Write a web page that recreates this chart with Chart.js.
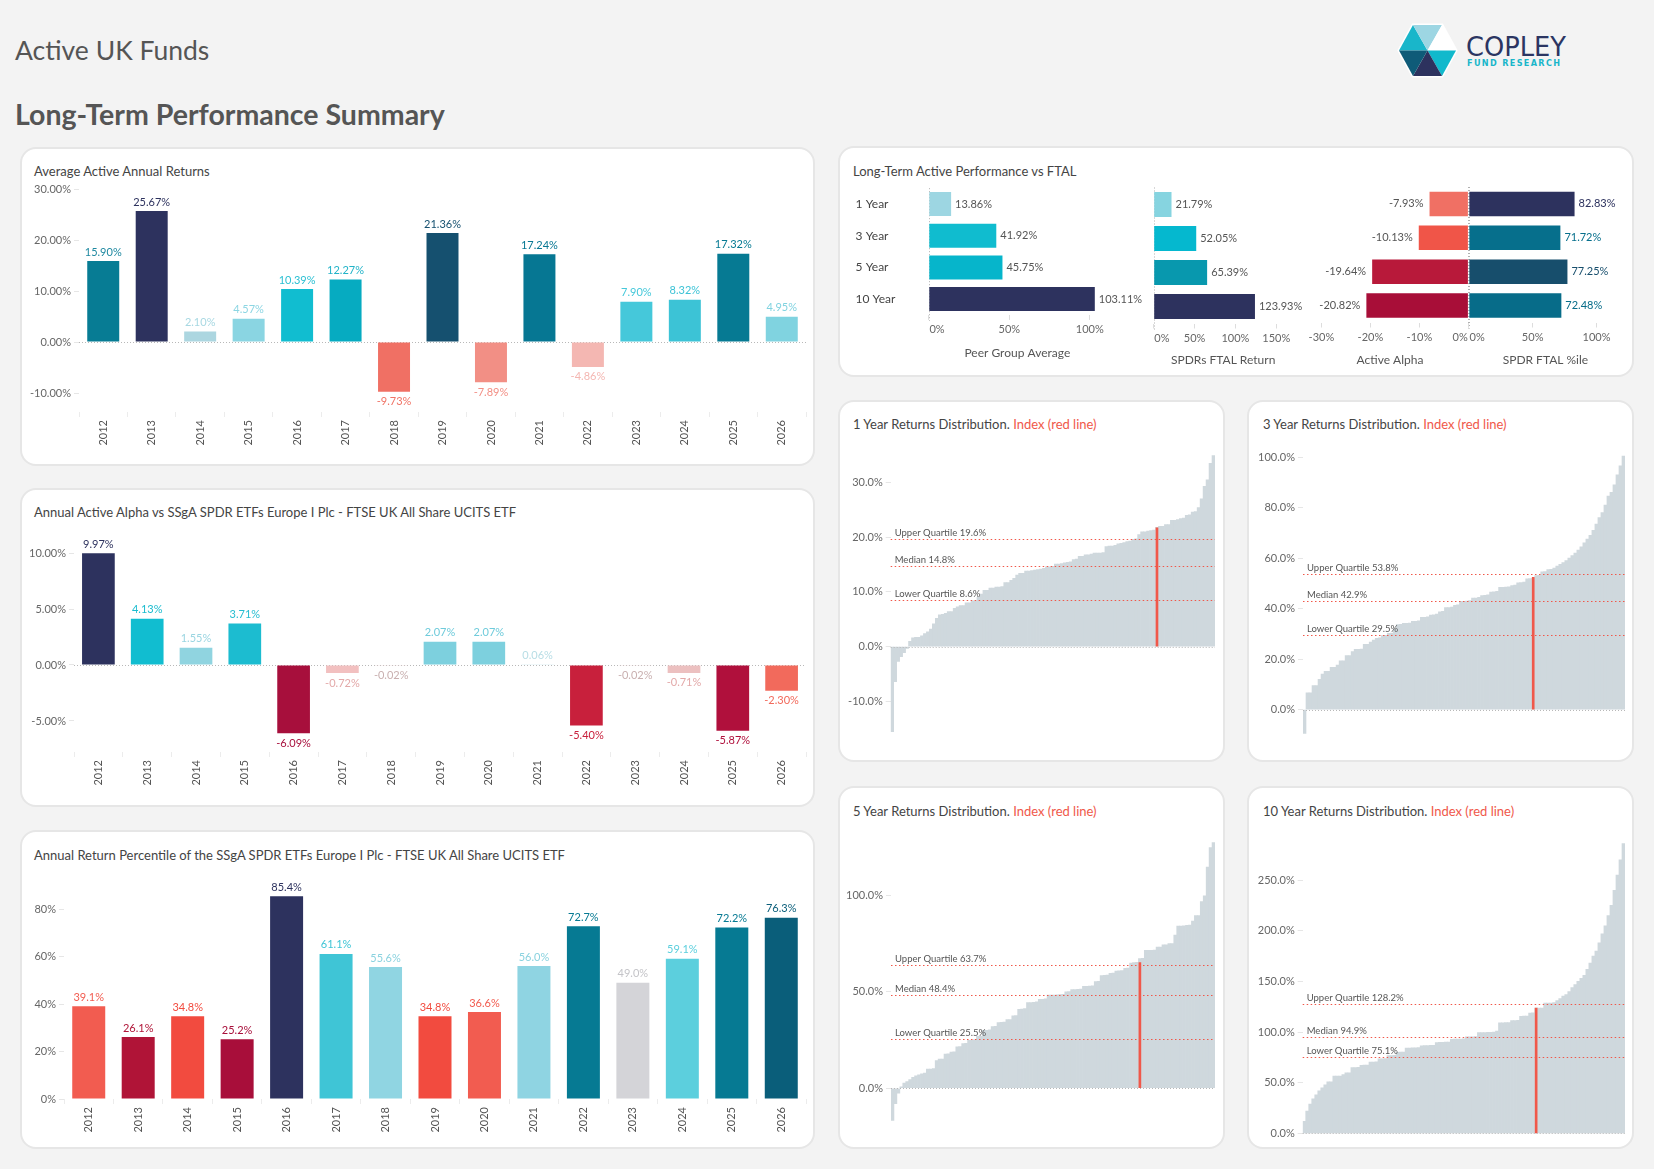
<!DOCTYPE html>
<html><head><meta charset="utf-8">
<script src="https://cdn.jsdelivr.net/npm/chart.js@4.4.1/dist/chart.umd.min.js"></script>
<style>
html,body{margin:0;padding:0;}
body{width:1654px;height:1169px;background:#f3f3f3;position:relative;overflow:hidden;font-family:Lato,'Noto Sans',sans-serif;}
.panel{position:absolute;background:#fff;border:2px solid #e6e6e6;border-radius:16px;box-sizing:border-box;}
.ttl{position:absolute;font-size:13px;color:#444;white-space:nowrap;line-height:16px;}
.ttl span{color:#f0584a;}
.h1{position:absolute;left:15px;top:34px;font-size:26.5px;line-height:32px;color:#555;}
.h2{position:absolute;left:15px;top:97px;font-size:28.5px;line-height:34px;color:#555;font-weight:700;}
canvas{position:absolute;}
svg{position:absolute;}
</style></head><body>
<div class="h1">Active UK Funds</div>
<div class="h2">Long-Term Performance Summary</div>
<svg style="left:1390px;top:15px" width="200" height="70" viewBox="0 0 200 70">
  <polygon points="9,35.5 23,10 52,10 66,35.5 52,61 23,61" fill="#fff" stroke="#fff" stroke-width="3"/>
  <polygon points="9,35.5 23,10 37.5,35.5" fill="#19b6ca"/>
  <polygon points="23,10 52,10 37.5,35.5" fill="#9dd6e3"/>
  <polygon points="52,10 66,35.5 37.5,35.5" fill="#ffffff"/>
  <polygon points="66,35.5 52,61 37.5,35.5" fill="#11b9cc"/>
  <polygon points="52,61 23,61 37.5,35.5" fill="#2d325e"/>
  <polygon points="23,61 9,35.5 37.5,35.5" fill="#0f5b78"/>
  <text x="76" y="41" font-family="'Liberation Sans Narrow','DejaVu Sans Condensed',sans-serif" font-size="27" fill="#2b3562" textLength="100" lengthAdjust="spacingAndGlyphs">COPLEY</text>
  <text x="77" y="50.5" font-family="'DejaVu Sans Condensed','DejaVu Sans',sans-serif" font-weight="700" font-size="9" fill="#19b6ca" textLength="93" lengthAdjust="spacing">FUND RESEARCH</text>
</svg>

<div class="panel" style="left:20px;top:147px;width:795px;height:319px"></div>
<div class="panel" style="left:20px;top:488px;width:795px;height:319px"></div>
<div class="panel" style="left:20px;top:830px;width:795px;height:319px"></div>
<div class="panel" style="left:838px;top:146px;width:796px;height:231px"></div>
<div class="panel" style="left:838px;top:400px;width:387px;height:362px"></div>
<div class="panel" style="left:1247px;top:400px;width:387px;height:362px"></div>
<div class="panel" style="left:838px;top:786px;width:387px;height:363px"></div>
<div class="panel" style="left:1247px;top:786px;width:387px;height:363px"></div>

<div class="ttl" style="left:34px;top:163px">Average Active Annual Returns</div>
<div class="ttl" style="left:34px;top:504px">Annual Active Alpha vs SSgA SPDR ETFs Europe I Plc - FTSE UK All Share UCITS ETF</div>
<div class="ttl" style="left:34px;top:847px">Annual Return Percentile of the SSgA SPDR ETFs Europe I Plc - FTSE UK All Share UCITS ETF</div>
<div class="ttl" style="left:853px;top:163px">Long-Term Active Performance vs FTAL</div>
<div class="ttl" style="left:853px;top:416px">1 Year Returns Distribution. <span>Index (red line)</span></div>
<div class="ttl" style="left:1263px;top:416px">3 Year Returns Distribution. <span>Index (red line)</span></div>
<div class="ttl" style="left:853px;top:803px">5 Year Returns Distribution. <span>Index (red line)</span></div>
<div class="ttl" style="left:1263px;top:803px">10 Year Returns Distribution. <span>Index (red line)</span></div>

<script>
// ---------- DATA ----------
const years = ['2012','2013','2014','2015','2016','2017','2018','2019','2020','2021','2022','2023','2024','2025','2026'];
const avgReturns = [15.90, 25.67, 2.10, 4.57, 10.39, 12.27, -9.73, 21.36, -7.89, 17.24, -4.86, 7.90, 8.32, 17.32, 4.95];
const avgTicks = [-10, 0, 10, 20, 30];
const alphaValues = [9.97, 4.13, 1.55, 3.71, -6.09, -0.72, -0.02, 2.07, 2.07, 0.06, -5.40, -0.02, -0.71, -5.87, -2.30];
const alphaTicks = [-5, 0, 5, 10];
const pctValues = [39.1, 26.1, 34.8, 25.2, 85.4, 61.1, 55.6, 34.8, 36.6, 56.0, 72.7, 49.0, 59.1, 72.2, 76.3];
const pctTicks = [0, 20, 40, 60, 80];

const periods = ['1 Year', '3 Year', '5 Year', '10 Year'];
const peerAvg = [13.86, 41.92, 45.75, 103.11];
const spdrReturn = [21.79, 52.05, 65.39, 123.93];
const activeAlpha = [-7.93, -10.13, -19.64, -20.82];
const spdrPctile = [82.83, 71.72, 77.25, 72.48];
const peerTicks = [0, 50, 100];
const spdrTicks = [0, 50, 100, 150];
const alphaLtTicks = [-30, -20, -10, 0];
const pctileTicks = [0, 50, 100];

const quartileNames = ['Upper Quartile', 'Median', 'Lower Quartile'];
const dist1y = [-15.5, -6.4, -2.7, -1.8, -1.1, -0.3, 1.0, 1.6, 1.7, 1.7,
  2.0, 2.4, 2.7, 3.2, 4.2, 5.2, 5.8, 5.9, 6.1, 6.4,
  6.4, 7.0, 7.3, 7.5, 7.5, 8.0, 8.0, 8.4, 8.4, 9.0,
  9.6, 10.3, 10.3, 10.7, 10.7, 10.9, 10.9, 11.0, 11.7, 11.7,
  12.1, 12.5, 13.1, 13.4, 13.4, 13.8, 13.8, 13.9, 14.0, 14.1,
  14.2, 14.3, 14.6, 14.6, 14.7, 15.1, 15.1, 15.2, 15.3, 15.4,
  15.5, 15.9, 16.0, 16.5, 16.5, 16.8, 16.8, 16.9, 17.1, 17.1,
  17.1, 17.2, 18.3, 18.4, 18.4, 18.5, 18.8, 18.9, 19.0, 19.2,
  19.3, 19.6, 19.7, 20.5, 21.0, 21.0, 21.1, 21.2, 21.3, 21.8,
  22.0, 22.0, 22.3, 22.3, 23.1, 23.1, 23.2, 23.4, 23.5, 24.0,
  24.1, 24.6, 24.7, 25.4, 27.0, 29.3, 30.5, 33.5, 34.9];
const quart1y = [19.6, 14.8, 8.6];
const index1yPos = 89, index1yVal = 21.7;
const dist1yTicks = [-10, 0, 10, 20, 30];

const dist3y = [-9.4,
  6.7, 6.7, 9.5, 9.5, 12.0, 14.1, 15.2, 15.2, 16.7, 16.7,
  17.6, 19.3, 19.3, 21.4, 21.4, 23.0, 23.9, 23.9, 24.0, 25.9,
  25.9, 26.7, 27.5, 28.2, 28.4, 29.3, 29.4, 30.2, 30.3, 31.9,
  33.7, 33.8, 34.2, 34.2, 34.3, 35.0, 35.0, 35.2, 36.5, 36.5,
  36.7, 37.4, 37.5, 37.8, 38.7, 38.9, 40.4, 40.4, 40.6, 41.3,
  41.5, 42.9, 42.9, 43.0, 43.2, 44.2, 44.2, 44.5, 45.2, 45.3,
  45.5, 46.5, 46.6, 46.8, 48.4, 48.4, 48.5, 48.6, 49.1, 49.3,
  50.2, 50.3, 50.5, 51.8, 51.9, 52.0, 53.1, 53.2, 54.6, 54.7,
  55.4,
  55.5, 56.0, 56.8, 57.5, 58.2, 59.0, 60.0, 61.0, 62.0, 63.2,
  64.5, 66.0, 67.5, 69.0, 71.0, 73.5, 76.0, 78.0, 81.0, 84.5,
  86.0, 89.0, 93.0, 96.5, 100.4];
const quart3y = [53.8, 42.9, 29.5];
const index3yPos = 76, index3yVal = 52.4;
const dist3yTicks = [0, 20, 40, 60, 80, 100];

const dist5y = [-16.7, -8.0, -2.5, 0.8, 2.7, 3.5, 4.5, 5.7, 6.5, 7.0,
  7.5, 7.9, 10.0, 10.0, 10.2, 14.4, 15.1, 15.1, 17.8, 17.9,
  18.8, 18.9, 21.5, 21.6, 23.2, 23.3, 24.9, 25.0, 25.2, 26.9,
  27.0, 30.0, 30.1, 30.3, 32.0, 32.1, 34.1, 34.2, 34.4, 35.6,
  35.7, 37.6, 37.7, 41.0, 41.1, 41.3, 44.4, 44.5, 44.6, 44.8,
  46.1, 46.2, 46.4, 48.3, 48.4, 48.4, 48.5, 48.6, 48.8, 50.0,
  50.1, 51.2, 51.2, 51.3, 51.4, 52.9, 52.9, 53.0, 53.1, 55.4,
  55.5, 58.5, 58.6, 58.7, 59.6, 59.7, 60.8, 60.9, 61.0, 62.2,
  62.3, 65.0, 65.2, 65.3, 67.3, 67.4, 71.5, 71.5, 71.6, 71.7,
  73.2, 73.2, 74.4, 74.4, 75.0, 75.0, 79.5, 84.2, 84.2, 84.3,
  84.5, 84.6, 86.7, 89.6, 89.6, 96.9, 99.8, 114.7, 124.9, 127.4];
const quart5y = [63.7, 48.4, 25.5];
const index5yPos = 84, index5yVal = 65.2;
const dist5yTicks = [0, 50, 100];

const dist10y = [12, 22, 29, 34, 38, 42, 45, 48, 51.0, 51.0,
  56.5, 56.5, 56.6, 58.0, 59.7, 59.8, 64.9, 65.0, 65.1, 67.2,
  67.3, 67.5, 70.4, 70.5, 70.6, 73.6, 73.7, 73.8, 76.8, 76.9,
  77.0, 80.1, 80.2, 80.3, 84.2, 84.3, 84.4, 84.5, 84.6, 86.5,
  86.6, 86.7, 86.8, 86.9, 89.7, 89.8, 89.9, 90.0, 90.1, 92.9,
  93.0, 93.1, 93.2, 93.3, 95.2, 95.3, 95.4, 95.5, 99.4, 99.5,
  99.6, 99.7, 99.8, 99.9, 101.0, 109.1, 109.2, 109.3, 109.4, 111.3,
  111.4, 111.5, 115.6, 115.7, 115.8, 118.8, 118.9, 123.6, 123.7, 123.8,
  128.5, 128.6, 128.7, 129.0, 131.0, 133.0, 135.5, 137.0, 140.0, 144.0,
  147.0, 150.0, 153.0, 156.0, 162.0, 168.0, 175.0, 180.0, 188.0, 197.0,
  205.0, 215.0, 225.0, 240.0, 255.0, 270.0, 286.0];
const quart10y = [128.2, 94.9, 75.1];
const index10yPos = 77, index10yVal = 123.6;
const dist10yTicks = [0, 50, 100, 150, 200, 250];

// ---------- STYLES ----------
const avgColors = ['#077c94','#2d325e','#acd6e0','#8ad5e2','#11bdd0','#06abc1','#f07064','#15506f','#f28f85','#067793','#f4b7b2','#45c8da','#3cc3d6','#067a93','#80d3e0'];
const avgLabelColors = ['#1e88a0','#2d325e','#a8d8e2','#8dd6e3','#2cc0d3','#22b3c8','#f07466','#15506f','#f28f85','#067793','#f4b7b2','#45c8da','#3cc3d6','#067a93','#80d3e0'];
const alphaColors = ['#2d325e','#11bdd0','#90d4e0','#1cbcd0','#a70f3c','#f2c0c0','#eed8d8','#7dd0de','#7dd0de','#c8e8ee','#c8203c','#eed8d8','#ecc0c0','#b0103c','#f26a5c'];
const alphaLabelColors = ['#2d325e','#1bbccf','#9ad5e1','#26bdd0','#a70f3c','#e3a9a9','#c9b0b0','#6fcbdb','#6fcbdb','#b7dde5','#c8203c','#c9b0b0','#e3a9a9','#b0103c','#f26a5c'];
const pctColors = ['#f25c50','#b01437','#f24b3f','#a80e3a','#2d325e','#3fc5d6','#90d5e2','#f24b3f','#f25c50','#8fd4e2','#067a93','#d4d4d8','#5ccfdd','#067a93','#0a5e7a'];
const pctLabelColors = ['#f25c50','#b01437','#f24b3f','#a80e3a','#2d325e','#3fc5d6','#8ad2df','#f24b3f','#f25c50','#8ad2df','#067a93','#c4c4c8','#5ccfdd','#067a93','#0a5e7a'];
const peerColors = ['#9dd6e2','#10bccf','#06b5cb','#2d325e'];
const spdrColors = ['#86d4e0','#05b8cf','#0898ae','#2d325e'];
const alphaLtColors = ['#f07064','#f05548','#b8193a','#a80e38'];
const pctileColors = ['#2d325e','#066f8c','#174e6c','#076c89'];

const FONT = "Lato, 'Noto Sans', sans-serif";
Chart.defaults.font.family = FONT;

// ---------- PLUGINS ----------
const valueLabels = {
  id: 'valueLabels',
  afterDatasetsDraw(chart, args, opts) {
    if (!opts || !opts.show) return;
    const ctx = chart.ctx;
    const meta = chart.getDatasetMeta(0);
    const data = chart.data.datasets[0].data;
    ctx.save();
    ctx.font = (opts.size || 11) + 'px ' + FONT;
    ctx.textBaseline = 'middle';
    meta.data.forEach((el, i) => {
      const v = data[i];
      const txt = opts.fmt(v);
      ctx.fillStyle = opts.colors ? opts.colors[i] : (opts.color || '#555');
      if (opts.horizontal) {
        if (v >= 0) { ctx.textAlign = 'left'; ctx.fillText(txt, el.x + 4, el.y); }
        else { ctx.textAlign = 'right'; ctx.fillText(txt, el.x - 6, el.y); }
      } else {
        ctx.textAlign = 'center';
        if (v >= 0) ctx.fillText(txt, el.x, el.y - 9);
        else ctx.fillText(txt, el.x, el.y + 10);
      }
    });
    ctx.restore();
  }
};
function drawZero(chart, opts) {
  const {ctx, chartArea: a} = chart;
  const horiz = chart.options.indexAxis === 'y';
  const sc = horiz ? chart.scales.x : chart.scales.y;
  const p = Math.round(sc.getPixelForValue(0)) + 0.5;
  ctx.save();
  ctx.strokeStyle = opts.color || '#b8b8b8';
  ctx.lineWidth = 1;
  ctx.setLineDash([1, 2]);
  ctx.beginPath();
  if (horiz) { ctx.moveTo(p, a.top); ctx.lineTo(p, a.bottom + (opts.extend || 0)); }
  else { ctx.moveTo(a.left, p); ctx.lineTo(a.right, p); }
  ctx.stroke();
  ctx.restore();
}
const zeroLine = {
  id: 'zeroLine',
  beforeDatasetsDraw(chart, args, opts) { if (opts && opts.show && !opts.front) drawZero(chart, opts); },
  afterDatasetsDraw(chart, args, opts) { if (opts && opts.show && opts.front) drawZero(chart, opts); }
};
const quartiles = {
  id: 'quartiles',
  afterDatasetsDraw(chart, args, opts) {
    if (!opts || !opts.values) return;
    const {ctx, chartArea: a, scales: {y}} = chart;
    ctx.save();
    opts.values.forEach((v, i) => {
      const py = Math.round(y.getPixelForValue(v)) + 0.5;
      ctx.strokeStyle = '#f0584a'; ctx.lineWidth = 1; ctx.setLineDash([1.5, 2.5]);
      ctx.beginPath(); ctx.moveTo(a.left, py); ctx.lineTo(a.right, py); ctx.stroke();
      ctx.setLineDash([]);
      ctx.fillStyle = '#555'; ctx.font = '9.5px ' + FONT; ctx.textAlign = 'left'; ctx.textBaseline = 'middle';
      ctx.fillText(opts.names[i] + ' ' + v.toFixed(1) + '%', a.left + 4, py - 7);
    });
    ctx.restore();
  }
};
Chart.register(valueLabels, zeroLine, quartiles);

function canvasAt(left, top, w, h) {
  const c = document.createElement('canvas');
  c.width = w; c.height = h;
  c.style.left = left + 'px'; c.style.top = top + 'px';
  c.style.width = w + 'px'; c.style.height = h + 'px';
  document.body.appendChild(c);
  return c;
}

// ---------- COLUMN CHARTS ----------
function colChart(c, cfg) {
  return new Chart(c, {
    type: 'bar',
    data: {labels: years, datasets: [{data: cfg.values, backgroundColor: cfg.colors, barPercentage: cfg.bp, categoryPercentage: 1}]},
    options: {
      responsive: false, animation: false, events: [],
      layout: {padding: {left: 0, right: 4, top: 10, bottom: 0}},
      plugins: {legend: {display: false}, tooltip: {enabled: false},
        valueLabels: {show: true, colors: cfg.labelColors, fmt: cfg.fmt},
        zeroLine: {show: cfg.zero}},
      scales: {
        x: {offset: true, grid: {offset: true, drawOnChartArea: false, tickLength: 5, color: '#ececec'}, border: {display: false},
            ticks: {minRotation: 90, maxRotation: 90, autoSkip: false, padding: 3, color: '#555', font: {size: 11}},
            afterFit: s => { s.height = 36; }},
        y: {min: cfg.min, max: cfg.max,
            afterBuildTicks: s => { s.ticks = cfg.ticks.map(v => ({value: v})); },
            afterFit: s => { s.width = cfg.yw; },
            grid: {drawOnChartArea: false, tickLength: 5, color: '#e6e6e6'}, border: {display: false},
            ticks: {padding: 3, color: '#666', font: {size: 11}, callback: cfg.tickFmt}}
      }
    }
  });
}
colChart(canvasAt(25, 178, 785, 270), {values: avgReturns, colors: avgColors, labelColors: avgLabelColors, bp: 0.66,
  fmt: v => v.toFixed(2) + '%', tickFmt: v => v.toFixed(2) + '%', min: -13.7, max: 30.2, ticks: avgTicks, yw: 54, zero: true});
colChart(canvasAt(25, 525, 785, 263), {values: alphaValues, colors: alphaColors, labelColors: alphaLabelColors, bp: 0.67,
  fmt: v => v.toFixed(2) + '%', tickFmt: v => v.toFixed(2) + '%', min: -7.77, max: 11.61, ticks: alphaTicks, yw: 49, zero: true});
colChart(canvasAt(25, 866, 785, 269), {values: pctValues, colors: pctColors, labelColors: pctLabelColors, bp: 0.667,
  fmt: v => v.toFixed(1) + '%', tickFmt: v => v + '%', min: 0, max: 93.9, ticks: pctTicks, yw: 39, zero: false});

// ---------- HORIZONTAL BARS (Long-Term) ----------
function hbar(c, cfg) {
  return new Chart(c, {
    type: 'bar',
    data: {labels: periods, datasets: [{data: cfg.values, backgroundColor: cfg.colors, barPercentage: cfg.bp, categoryPercentage: 1}]},
    options: {
      indexAxis: 'y', responsive: false, animation: false, events: [],
      layout: {padding: cfg.pad},
      plugins: {legend: {display: false}, tooltip: {enabled: false},
        valueLabels: {show: true, horizontal: true, colors: cfg.labelColors, color: '#555', fmt: v => v.toFixed(2) + '%'},
        zeroLine: {show: true, extend: 6, color: '#b0b0b0'}},
      scales: {
        x: {min: cfg.min, max: cfg.max,
            afterBuildTicks: s => { s.ticks = cfg.ticks.map(v => ({value: v})); },
            afterFit: s => { s.height = cfg.xh; },
            grid: {drawOnChartArea: false, tickLength: 5, color: '#dddddd'}, border: {display: false},
            ticks: {padding: 3, color: '#666', font: {size: 11}, callback: cfg.tickFmt},
            title: {display: true, text: cfg.title, color: '#555', font: {size: 12}, padding: {top: 0, bottom: 0}}},
        y: {display: cfg.showY, grid: {display: false, drawTicks: false}, border: {display: false},
            ticks: {crossAlign: 'far', padding: 0, color: '#444', font: {size: 12}},
            afterFit: s => { s.width = cfg.yw || 0; }}
      }
    }
  });
}
const zeroRight = v => v === 0 ? '\u2002\u2002\u20020%' : v + '%';
const zeroLeft = v => v === 0 ? '0%\u2002\u2002\u2002' : v + '%';
hbar(canvasAt(850, 180, 300, 180), {values: peerAvg, colors: peerColors, bp: 0.757, min: 0, max: 110, ticks: peerTicks,
  pad: {left: 5.6, right: 44.1, top: 8.2, bottom: 0}, xh: 45.1, showY: true, yw: 73.2, title: 'Peer Group Average', tickFmt: zeroRight});
hbar(canvasAt(1130, 180, 180, 187), {values: spdrReturn, colors: spdrColors, bp: 0.735, min: 0, max: 170, ticks: spdrTicks,
  pad: {left: 23.7, right: 17.4, top: 7.5, bottom: 0}, xh: 43.5, showY: false, title: 'SPDRs FTAL Return', tickFmt: zeroRight});
hbar(canvasAt(1290, 180, 200, 187), {values: activeAlpha, colors: alphaLtColors, bp: 0.72, min: -32, max: 0, ticks: alphaLtTicks,
  pad: {left: 21.6, right: 21.6, top: 7, bottom: 0}, xh: 44.5, showY: false, title: 'Active Alpha', tickFmt: zeroLeft});
hbar(canvasAt(1450, 180, 184, 187), {values: spdrPctile, colors: pctileColors, labelColors: pctileColors, bp: 0.72, min: 0, max: 120, ticks: pctileTicks,
  pad: {left: 18.4, right: 12, top: 7, bottom: 0}, xh: 44.5, showY: false, title: 'SPDR FTAL %ile', tickFmt: zeroRight});

// ---------- DISTRIBUTIONS ----------
function distChart(c, cfg) {
  return new Chart(c, {
    type: 'bar',
    data: {labels: cfg.values.map((_, i) => i + 1), datasets: [
      {data: cfg.values.map((_, i) => i === cfg.idxPos ? cfg.idxVal : null), backgroundColor: '#f0584a', barThickness: 2, grouped: false, order: 0},
      {data: cfg.values, backgroundColor: '#cfd8dd', barPercentage: 1, categoryPercentage: 1, grouped: false, order: 1, borderWidth: 0}
    ]},
    options: {
      responsive: false, animation: false, events: [],
      layout: {padding: cfg.pad},
      plugins: {legend: {display: false}, tooltip: {enabled: false},
        zeroLine: {show: true, front: true, color: '#b8b8b8'},
        quartiles: {values: cfg.quart, names: quartileNames}},
      scales: {
        x: {display: false, offset: true},
        y: {min: cfg.min, max: cfg.max,
            afterBuildTicks: s => { s.ticks = cfg.ticks.map(v => ({value: v})); },
            afterFit: s => { s.width = cfg.yw; },
            grid: {drawOnChartArea: false, tickLength: 5, color: '#e6e6e6'}, border: {display: false},
            ticks: {padding: 3, color: '#666', font: {size: 11}, callback: v => v.toFixed(1) + '%'}}
      }
    }
  });
}
distChart(canvasAt(845, 440, 375, 305), {values: dist1y, quart: quart1y, idxPos: index1yPos, idxVal: index1yVal, ticks: dist1yTicks,
  min: -16.2, max: 36, yw: 45.7, pad: {left: 0, right: 5, top: 9.5, bottom: 4.8}});
distChart(canvasAt(1250, 443, 380, 302), {values: dist3y, quart: quart3y, idxPos: index3yPos, idxVal: index3yVal, ticks: dist3yTicks,
  min: -10.2, max: 101.6, yw: 53, pad: {left: 0, right: 5, top: 10, bottom: 7}});
distChart(canvasAt(845, 830, 375, 302), {values: dist5y, quart: quart5y, idxPos: index5yPos, idxVal: index5yVal, ticks: dist5yTicks,
  min: -17.7, max: 129, yw: 46, pad: {left: 0, right: 5, top: 8.6, bottom: 4.9}});
distChart(canvasAt(1250, 830, 380, 315), {values: dist10y, quart: quart10y, idxPos: index10yPos, idxVal: index10yVal, ticks: dist10yTicks,
  min: -2, max: 290, yw: 52.7, pad: {left: 0, right: 5, top: 8.1, bottom: 5.2}});
</script>
</body></html>
